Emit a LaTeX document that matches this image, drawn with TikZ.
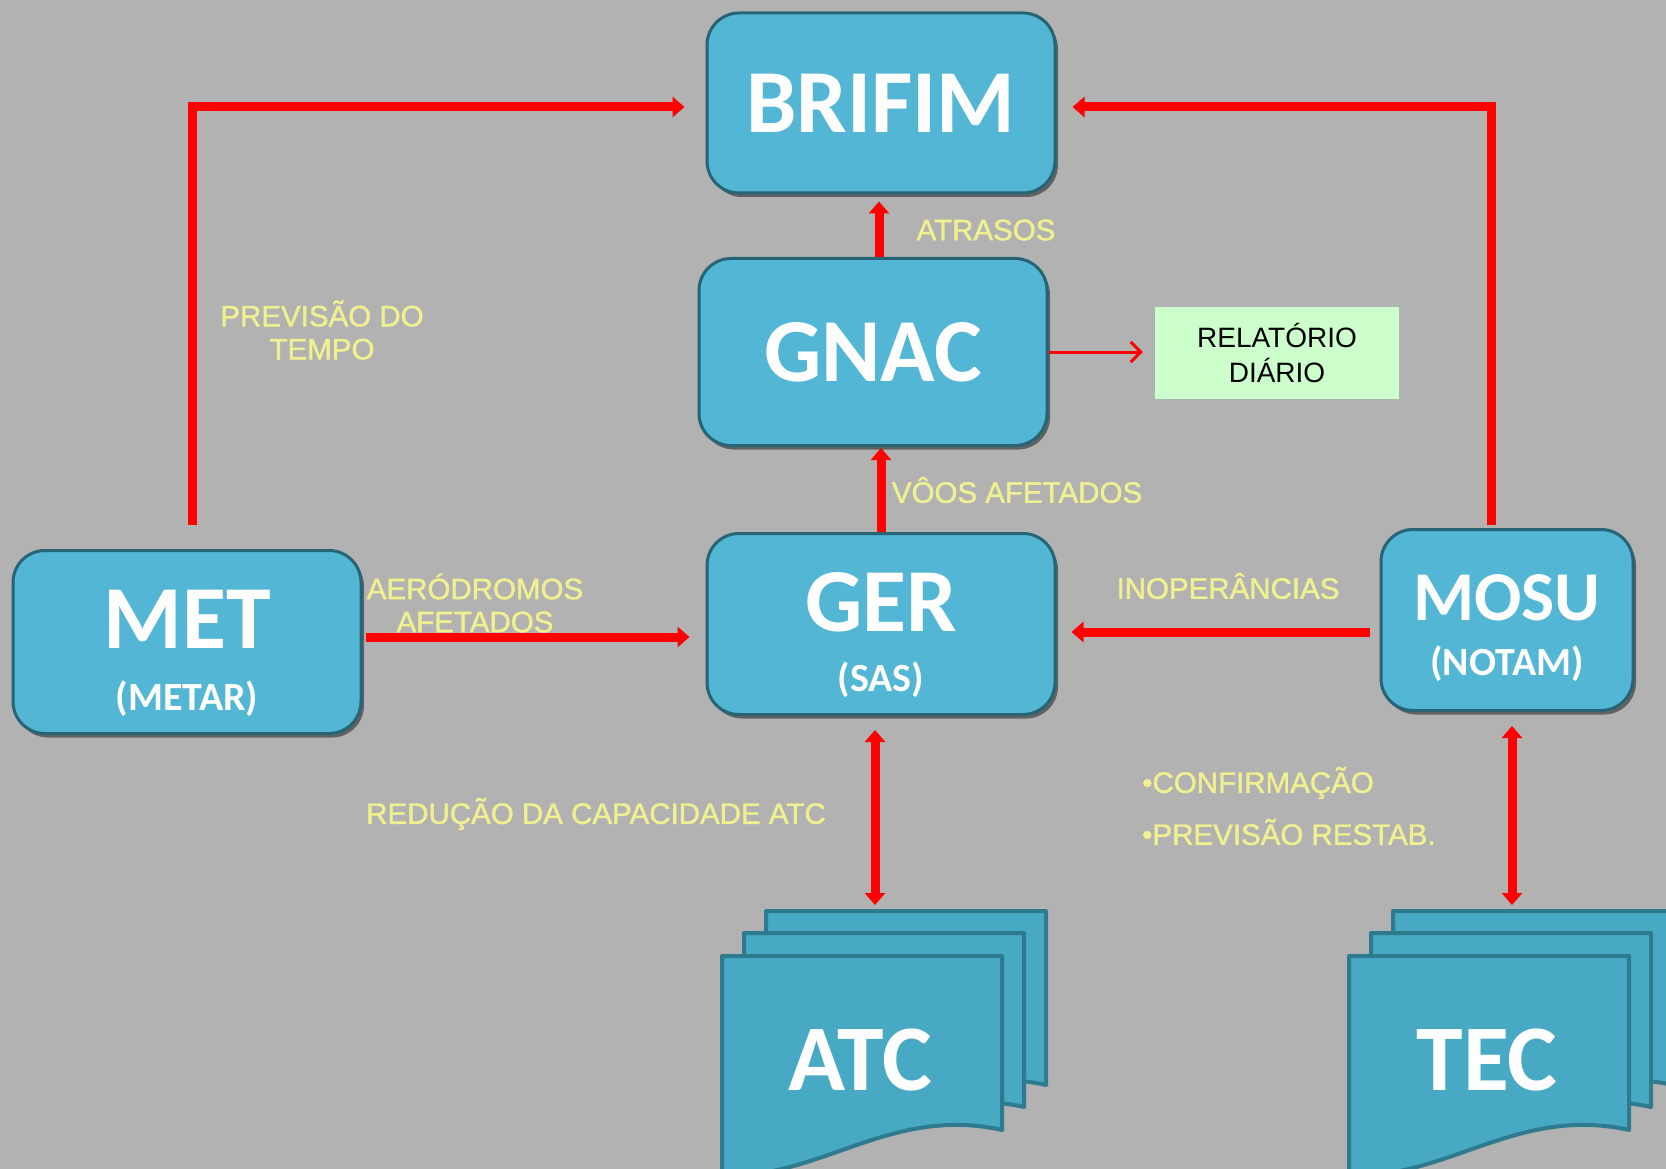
\documentclass[tikz,border=0pt]{standalone}
\usepackage{fontspec}
\setmainfont{Liberation Sans}
\newfontfamily\boxfont{Carlito}
\newfontfamily\labelfont[FakeBold=1.4]{Liberation Sans}
\newfontfamily\relfont{Liberation Sans}
\usetikzlibrary{arrows.meta,shadows}
\definecolor{bggray}{RGB}{178,178,178}
\definecolor{boxblue}{RGB}{82,182,212}
\definecolor{boxedge}{RGB}{38,100,118}
\definecolor{pageblue}{RGB}{71,169,196}
\definecolor{pageedge}{RGB}{46,122,142}
\definecolor{lblyellow}{RGB}{240,240,145}
\definecolor{relgreen}{RGB}{204,255,204}
% one sheet of a document stack, top left corner at (#1,#2)
\newcommand\docpage[2]{%
	\draw[docpage] (#1,#2) -- ({#1+280},#2) -- ({#1+280},{#2+174})
		.. controls ({#1+168},{#2+149}) and ({#1+98},{#2+224}) .. (#1,{#2+219}) -- cycle;}
\begin{document}
\begin{tikzpicture}[x=1pt,y=-1pt,
		unitbox/.style={draw=boxedge,line width=3pt,fill=boxblue,rounded corners=32pt,inner sep=0pt,
			drop shadow={shadow xshift=3pt,shadow yshift=-4pt,fill=black,opacity=0.45}},
		bigtxt/.style={font=\boxfont\bfseries\fontsize{90}{92}\selectfont,text=white,inner sep=0pt},
		subtxt/.style={font=\boxfont\bfseries\fontsize{40}{42}\selectfont,text=white,inner sep=0pt},
		lbl/.style={font=\labelfont\fontsize{29.5}{33}\selectfont,text=lblyellow,inner sep=0pt,align=center},
		flow/.style={draw=red,line width=9pt,-{Triangle[length=12pt,width=20pt]}},
		thinflow/.style={draw=red,line width=3pt,-{Straight Barb[length=10pt,width=20pt]}},
		docpage/.style={draw=pageedge,line width=4pt,fill=pageblue,line join=round}]
	\useasboundingbox (0,0) rectangle (1666,1169);
	\fill[bggray] (0,0) rectangle (1666,1169);
	\clip (0,0) rectangle (1666,1169);

	% units
	\node[unitbox,minimum width=348pt,minimum height=180pt,bigtxt] (brifim) at (881,103) {BRIFIM};
	\node[unitbox,minimum width=348pt,minimum height=187pt,bigtxt] (gnac) at (873,352) {GNAC};
	\node[unitbox,minimum width=348pt,minimum height=181pt] (ger) at (881,624) {};
	\node[unitbox,minimum width=348pt,minimum height=183pt] (met) at (187,642) {};
	\node[unitbox,minimum width=252pt,minimum height=181pt] (mosu) at (1507,620) {};
	\node[bigtxt] (gertitle) at (881,602) {GER};
	\node[subtxt] (gersub) at (881,680) {(SAS)};
	\node[bigtxt] (mettitle) at (187,619) {MET};
	\node[subtxt] (metsub) at (187,699) {(METAR)};
	\node[bigtxt,font=\boxfont\bfseries\fontsize{70}{72}\selectfont] (mosutitle) at (1507,598) {MOSU};
	\node[subtxt] (mosusub) at (1507,664) {(NOTAM)};
	\node[fill=relgreen,minimum width=244pt,minimum height=92pt,inner sep=0pt,align=center,
		font=\relfont\fontsize{28}{35}\selectfont] (rel) at (1277,353) {RELATÓRIO\\DIÁRIO};

	% document stacks
	\foreach \dx/\dy in {44/-45,22/-23,0/0}{
		\docpage{722+\dx}{956+\dy}
		\docpage{1349+\dx}{956+\dy}
	}
	\node[bigtxt,font=\boxfont\bfseries\fontsize{94}{96}\selectfont] (atc) at (860,1060) {ATC};
	\node[bigtxt,font=\boxfont\bfseries\fontsize{94}{96}\selectfont] (tec) at (1487,1060) {TEC};
	\coordinate (atcdoc) at (875,911);
	\coordinate (tecdoc) at (1512,911);

	% flows
	\draw[flow,shorten <=24pt,shorten >=21pt] ([xshift=5pt]met.north) |- ([yshift=-4pt]brifim.west);
	\draw[flow,shorten <=3pt,shorten >=16pt] ([xshift=-16pt]mosu.north) |- ([yshift=-4pt]brifim.east);
	\draw[flow,shorten >=7pt] ([xshift=6pt]gnac.north) -- ([xshift=6pt]gnac.north |- brifim.south);
	\draw[flow,shorten >=1pt] (ger.north) -- (ger.north |- gnac.south);
	\draw[thinflow,shorten >=12pt] (gnac.east) -- (gnac.east -| rel.west);
	\draw[flow,shorten <=3pt,shorten >=16pt] ([yshift=5pt]met.east) -- ([yshift=5pt]met.east -| ger.west);
	\draw[flow,shorten <=10pt,shorten >=15pt] ([yshift=-12pt]mosu.west) -- ([yshift=-12pt]mosu.west -| ger.east);
	\draw[flow,{Triangle[length=12pt,width=20pt]}-{Triangle[length=12pt,width=20pt]},shorten <=14pt,shorten >=6pt]
		([xshift=-6pt]ger.south) -- (atcdoc);
	\draw[flow,{Triangle[length=12pt,width=20pt]}-{Triangle[length=12pt,width=20pt]},shorten <=14pt,shorten >=6pt]
		([xshift=5pt]mosu.south) -- (tecdoc);

	% labels
	\node[lbl] (previsao) at (322,330) {PREVISÃO DO\\TEMPO};
	\node[lbl] (atrasos) at (986,230) {ATRASOS};
	\node[lbl] (voos) at (1017,490) {VÔOS AFETADOS};
	\node[lbl] (aerodromos) at (475,603) {AERÓDROMOS\\AFETADOS};
	\node[lbl] (inop) at (1228,586) {INOPERÂNCIAS};
	\node[lbl] (reducao) at (596,814) {REDUÇÃO DA CAPACIDADE ATC};
	\node[lbl,align=left,anchor=west,font=\labelfont\fontsize{29.5}{52}\selectfont] (confirm) at (1142,806)
		{•CONFIRMAÇÃO\\•PREVISÃO RESTAB.};
\end{tikzpicture}
\end{document}
